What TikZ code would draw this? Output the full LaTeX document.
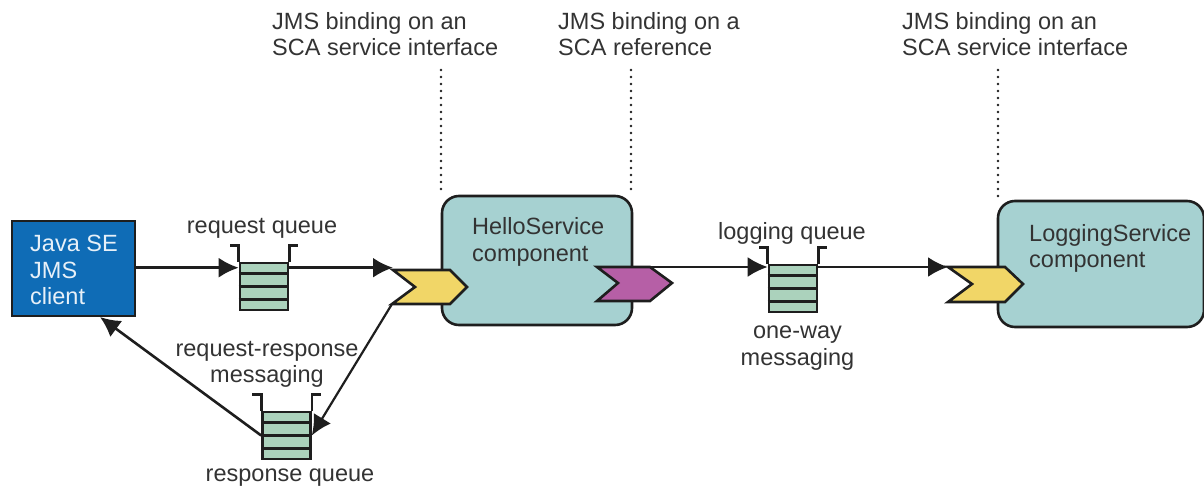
\documentclass[tikz,border=0pt]{standalone}
\usepackage{fontspec}
\setmainfont{Liberation Sans}
\usetikzlibrary{arrows.meta}
\definecolor{javablue}{HTML}{0F6CB6}
\definecolor{compteal}{HTML}{A6D1D1}
\definecolor{chevyellow}{HTML}{F1D667}
\definecolor{chevpurple}{HTML}{B65FA6}
\definecolor{queuegreen}{HTML}{ABD2BC}
\definecolor{ink}{HTML}{1E1E1E}
\definecolor{labelgrey}{HTML}{333333}
\tikzset{
  x=1pt,y=-1pt,
  lbl/.style={text=labelgrey,inner sep=0pt,font=\fontsize{23.5}{26.5}\selectfont},
  lblleft/.style={lbl,align=left,anchor=north west},
  lblmid/.style={lbl,align=center,anchor=north},
  javabox/.style={draw=ink,line width=1.8pt,fill=javablue,minimum width=123pt,minimum height=95pt,inner sep=0pt},
  component/.style={draw=ink,line width=2.6pt,fill=compteal,rounded corners=17pt,inner sep=0pt},
  chevron/.style={draw=ink,line width=2.6pt,line join=miter},
  flow/.style={draw=ink,line width=2.6pt,-{Latex[length=20pt,width=20pt]}},
  thinflow/.style={draw=ink,line width=2.2pt,-{Latex[length=20pt,width=20pt]}},
  guide/.style={draw=ink,line width=2.6pt,line cap=round,dash pattern=on 0pt off 7pt},
  queuebody/.style={draw=ink,line width=2.6pt,fill=queuegreen,minimum width=48pt,minimum height=47pt,inner sep=0pt},
  qline/.style={draw=ink,line width=2.6pt},
}
\newcommand{\queuedetail}[1]{%
  \draw[qline] (#1.north west) -- ++(0,-16.5) -- ++(-9,0);
  \draw[qline] (#1.north east) -- ++(0,-16.5) -- ++(9,0);
  \draw[qline] ([yshift=-11.75pt]#1.north west) -- ([yshift=-11.75pt]#1.north east);
  \draw[qline] (#1.west) -- (#1.east);
  \draw[qline] ([yshift=11.75pt]#1.south west) -- ([yshift=11.75pt]#1.south east);
}
\begin{document}
\begin{tikzpicture}
\useasboundingbox (0,0) rectangle (1204,490);
% dotted guides
\coordinate (g1top) at (441,70);
\coordinate (g2top) at (631,70);
\coordinate (g3top) at (998,70);
% components
\node[component,minimum width=190pt,minimum height=129pt] (hello) at (537,260.5) {};
\node[component,minimum width=206pt,minimum height=126pt] (logging) at (1101,264) {};
\draw[guide] (g1top) -- (hello.north west -| g1top);
\draw[guide] (g2top) -- (hello.north east -| g2top);
\draw[guide] (g3top) -- (logging.north west -| g3top);
\node[lblleft] (hellotext) at (472,217) {HelloService\\[1pt]component};
\node[lblleft] (loggingtext) at (1029,224) {LoggingService\\component};
% client
\node[javabox] (java) at (73.5,268.5) {};
\node[lblleft,text=white!90!javablue] (javatext) at (30,235) {Java SE\\JMS\\client};
% queues
\node[queuebody] (q1) at (264,286.5) {};
\node[queuebody] (q2) at (286.5,435.5) {};
\node[queuebody] (q3) at (793,288.5) {};
% chevrons
\coordinate (y1a) at (393,270); \coordinate (y1b) at (450,270); \coordinate (y1c) at (467,287);
\coordinate (y1d) at (450,304); \coordinate (y1e) at (392,304); \coordinate (y1f) at (415,287);
\draw[chevron,fill=chevyellow] (y1a)--(y1b)--(y1c)--(y1d)--(y1e)--(y1f)--cycle;
\coordinate (p1a) at (597,267); \coordinate (p1b) at (650,267); \coordinate (p1c) at (672,283);
\coordinate (p1d) at (650,301); \coordinate (p1e) at (597,301); \coordinate (p1f) at (618,283);
\draw[chevron,fill=chevpurple] (p1a)--(p1b)--(p1c)--(p1d)--(p1e)--(p1f)--cycle;
\coordinate (y2a) at (948,267); \coordinate (y2b) at (1005,267); \coordinate (y2c) at (1023,284);
\coordinate (y2d) at (1005,302); \coordinate (y2e) at (948,302); \coordinate (y2f) at (972,284);
\draw[chevron,fill=chevyellow] (y2a)--(y2b)--(y2c)--(y2d)--(y2e)--(y2f)--cycle;
% queue details
\queuedetail{q1}
\queuedetail{q2}
\queuedetail{q3}
% connectors
\draw[flow] (java.east |- q1.north west) ++(0,6) coordinate (j1) -- (q1.north west |- j1);
\draw[flow] (q1.north east |- j1) -- (y1a |- j1);
\draw[thinflow] (y1e) -- (q2.east);
\draw[flow] (q2.west) -- (100,317);
\draw[flow] (p1b) -- (q3.north west |- p1b);
\draw[flow] (q3.north east |- p1b) -- (y2a);
% labels
\node[lblleft] (l1) at (272,12) {JMS binding on an\\SCA service interface};
\node[lblleft] (l2) at (558,12) {JMS binding on a\\SCA reference};
\node[lblleft] (l3) at (902,12) {JMS binding on an\\SCA service interface};
\node[lblmid] (l4) at (262,218) {request queue};
\node[lblmid] (l5) at (792,222) {logging queue};
\node[lblmid] (l6) at (267,341) {request-response\\messaging};
\node[lblmid] (l7) at (797.5,326) {one-way\\messaging};
\node[lblmid] (l8) at (290,469) {response queue};
\end{tikzpicture}
\end{document}
